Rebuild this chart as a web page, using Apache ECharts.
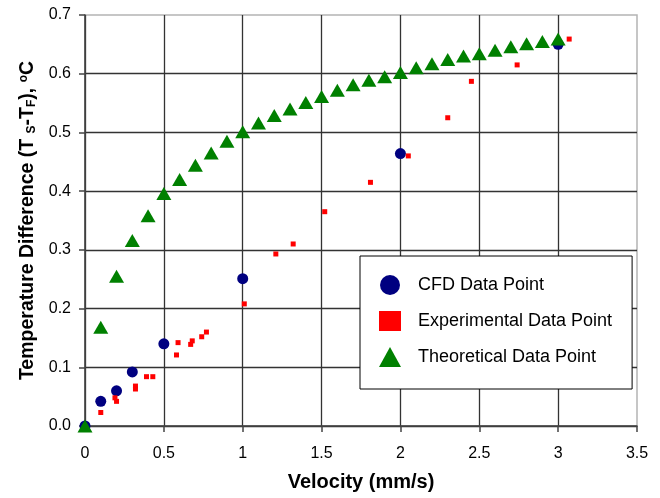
<!DOCTYPE html>
<html>
<head>
<meta charset="utf-8">
<script src="https://cdn.jsdelivr.net/npm/echarts@6/dist/echarts.min.js"></script>
<style>
html,body{margin:0;padding:0;background:#fff;}
#chart{width:660px;height:498px;}
</style>
</head>
<body>
<div id="chart"></div>
<script>
var cfdX = [0, 0.1, 0.2, 0.3, 0.5, 1.0, 2.0, 3.0];
var cfdY = [0, 0.042, 0.060, 0.092, 0.140, 0.251, 0.464, 0.650];

var expX = [0.10, 0.19, 0.20, 0.32, 0.32, 0.39, 0.43, 0.58, 0.59, 0.67, 0.68, 0.74, 0.77, 1.01, 1.21, 1.32, 1.52, 1.81, 2.05, 2.30, 2.45, 2.74, 3.07];
var expY = [0.023, 0.048, 0.042, 0.068, 0.063, 0.084, 0.084, 0.121, 0.142, 0.139, 0.145, 0.152, 0.160, 0.208, 0.293, 0.310, 0.365, 0.415, 0.460, 0.525, 0.587, 0.615, 0.659];

var theoX = [0, 0.1, 0.2, 0.3, 0.4, 0.5, 0.6, 0.7, 0.8, 0.9, 1.0, 1.1, 1.2, 1.3, 1.4, 1.5, 1.6, 1.7, 1.8, 1.9, 2.0, 2.1, 2.2, 2.3, 2.4, 2.5, 2.6, 2.7, 2.8, 2.9, 3.0];
var theoY = [0, 0.168, 0.255, 0.316, 0.358, 0.396, 0.420, 0.444, 0.465, 0.485, 0.501, 0.516, 0.529, 0.540, 0.551, 0.561, 0.572, 0.581, 0.589, 0.595, 0.602, 0.610, 0.617, 0.624, 0.630, 0.634, 0.640, 0.646, 0.651, 0.655, 0.659];

var seriesNames = ['CFD Data Point', 'Experimental Data Point', 'Theoretical Data Point'];
var xTitle = 'Velocity (mm/s)';

function pairs(xs, ys) { return xs.map(function (x, i) { return [x, ys[i]]; }); }

var FONT = '"Liberation Sans", Arial, sans-serif';
var chart = echarts.init(document.getElementById('chart'), null, {renderer: 'canvas'});
chart.setOption({
  animation: false,
  backgroundColor: '#fff',
  grid: {left: 85, right: 23, top: 15, bottom: 72, show: true, borderColor: '#b4b4b4', borderWidth: 1.5, backgroundColor: 'transparent'},
  xAxis: {
    type: 'value', min: 0, max: 3.5, interval: 0.5,
    name: xTitle, nameLocation: 'middle', nameGap: 46,
    nameTextStyle: {fontFamily: FONT, fontSize: 20, fontWeight: 'bold', color: '#000'},
    axisLine: {show: true, onZero: false, lineStyle: {color: '#444', width: 1.5}},
    axisTick: {show: true, inside: false, length: 6, lineStyle: {color: '#444', width: 1.5}},
    axisLabel: {fontFamily: FONT, fontSize: 16, color: '#000', margin: 20},
    splitLine: {show: true, showMaxLine: false, lineStyle: {color: '#333', width: 1.3}}
  },
  yAxis: {
    type: 'value', min: 0, max: 0.7, interval: 0.1,
    name: '{a|Temperature Difference (T }{s|S}{a|-T}{s|F}{a|), }{o|o}{a|C}',
    nameLocation: 'middle', nameGap: 43, nameRotate: 90,
    nameTextStyle: {
      fontFamily: FONT, fontSize: 19.5, fontWeight: 'bold', color: '#000',
      rich: {
        a: {fontFamily: FONT, fontSize: 19.5, fontWeight: 'bold', color: '#000'},
        s: {fontFamily: FONT, fontSize: 12, fontWeight: 'bold', color: '#000', verticalAlign: 'bottom'},
        o: {fontFamily: FONT, fontSize: 12, fontWeight: 'bold', color: '#000', verticalAlign: 'top'}
      }
    },
    axisLine: {show: true, lineStyle: {color: '#444', width: 1.5}},
    axisTick: {show: true, inside: false, length: 6, lineStyle: {color: '#444', width: 1.5}},
    axisLabel: {fontFamily: FONT, fontSize: 16, color: '#000', margin: 14, formatter: function (v) { return v.toFixed(1); }},
    splitLine: {show: true, showMaxLine: false, lineStyle: {color: '#333', width: 1.3}}
  },
  legend: {
    orient: 'vertical', left: 360, top: 256,
    padding: [19, 20, 22, 19], itemGap: 16, itemWidth: 22, itemHeight: 20,
    backgroundColor: '#fff', borderColor: '#000', borderWidth: 1,
    textStyle: {fontFamily: FONT, fontSize: 18, color: '#000', padding: [0, 0, 0, 12]},
    data: seriesNames
  },
  series: [
    {name: seriesNames[0], type: 'scatter', symbol: 'circle', symbolSize: 11,
     itemStyle: {color: '#000080', opacity: 1}, data: pairs(cfdX, cfdY), z: 3},
    {name: seriesNames[1], type: 'scatter', symbol: 'rect', symbolSize: 5,
     itemStyle: {color: '#ff0000', opacity: 1}, data: pairs(expX, expY), z: 4},
    {name: seriesNames[2], type: 'scatter', symbol: 'triangle', symbolSize: [15, 13],
     itemStyle: {color: '#008000', opacity: 1}, data: pairs(theoX, theoY), z: 5}
  ]
});
</script>
</body>
</html>
